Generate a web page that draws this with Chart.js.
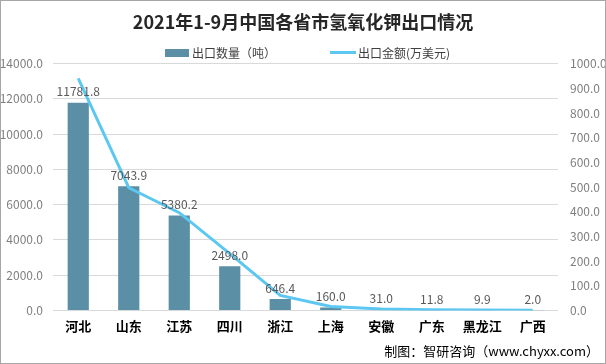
<!DOCTYPE html>
<html>
<head>
<meta charset="utf-8">
<script src="https://cdn.jsdelivr.net/npm/chart.js@4.4.0/dist/chart.umd.min.js"></script>
<style>
  html, body { margin: 0; padding: 0; background: #fff; }
  #wrap { position: relative; width: 606px; height: 364px; box-sizing: border-box; border: 1px solid #a6a6a6; }
  #footer { position: absolute; right: 6px; bottom: 3px; font: 13px "Noto Sans CJK SC", sans-serif; color: #000; }
  #legend { position: absolute; left: 164px; top: 41px; font: 12px "Noto Sans CJK SC", sans-serif; color: #404040; white-space: nowrap; line-height: 18px; }
  #legend span { display: inline-block; vertical-align: middle; }
  .mk-bar { width: 24px; height: 8px; background: #5b8fa6; margin-right: 3px; }
  .mk-line { width: 26px; height: 3px; background: #5cc8f2; margin-left: 54px; margin-right: 2px; }
</style>
</head>
<body>
<div id="wrap">
  <canvas id="chart" width="604" height="362"></canvas>
  <div id="legend"><span class="mk-bar"></span><span>出口数量（吨）</span><span class="mk-line"></span><span>出口金额(万美元)</span></div>
  <div id="footer">制图：智研咨询（www.chyxx.com）</div>
</div>
<script>
const provinces = ["河北", "山东", "江苏", "四川", "浙江", "上海", "安徽", "广东", "黑龙江", "广西"];
const exportTons = [11781.8, 7043.9, 5380.2, 2498.0, 646.4, 160.0, 31.0, 11.8, 9.9, 2.0];
const exportUsd = [940, 497, 396, 230, 61, 16, 6, 2.5, 2, 0.5];

const FONT = '"Noto Sans CJK SC", sans-serif';
const barColor = "#5b8fa6";
const lineColor = "#5cc8f2";

// value labels above the bars
const barLabels = {
  id: "barLabels",
  afterDatasetsDraw(chart) {
    const ctx = chart.ctx;
    const meta = chart.getDatasetMeta(1);
    ctx.save();
    ctx.font = "12px " + FONT;
    ctx.fillStyle = "#595959";
    ctx.textAlign = "center";
    ctx.textBaseline = "bottom";
    meta.data.forEach((bar, i) => {
      ctx.fillText(exportTons[i].toFixed(1), bar.x, bar.y - 5);
    });
    ctx.restore();
  }
};

new Chart(document.getElementById("chart"), {
  type: "bar",
  data: {
    labels: provinces,
    datasets: [
      {
        type: "line",
        label: "出口金额(万美元)",
        data: exportUsd,
        yAxisID: "y1",
        borderColor: lineColor,
        borderWidth: 3,
        pointRadius: 0,
        tension: 0,
        order: 0
      },
      {
        label: "出口数量（吨）",
        data: exportTons,
        yAxisID: "y",
        backgroundColor: barColor,
        barPercentage: 0.42,
        categoryPercentage: 1,
        order: 1
      }
    ]
  },
  options: {
    responsive: false,
    animation: false,
    layout: { padding: { left: 0, right: 0, top: 0, bottom: 21 } },
    plugins: {
      title: {
        display: true,
        text: "2021年1-9月中国各省市氢氧化钾出口情况",
        color: "#262626",
        font: { family: FONT, size: 18, weight: "bold" },
        padding: { top: 10, bottom: 31 }
      },
      legend: { display: false },
      tooltip: { enabled: false }
    },
    scales: {
      x: {
        grid: { display: false, drawTicks: false },
        border: { display: false },
        ticks: { color: "#000", font: { family: FONT, size: 13, weight: "bold" }, padding: 8 }
      },
      y: {
        position: "left",
        min: 0,
        max: 14000,
        afterFit: s => { s.width = 52; },
        ticks: {
          stepSize: 2000,
          color: "#7f7f7f",
          font: { family: FONT, size: 12 },
          padding: 10,
          callback: v => v.toFixed(1)
        },
        grid: { color: "#d9d9d9", drawTicks: false },
        border: { display: false }
      },
      y1: {
        position: "right",
        min: 0,
        max: 1000,
        afterFit: s => { s.width = 47; },
        ticks: {
          stepSize: 100,
          color: "#7f7f7f",
          font: { family: FONT, size: 12 },
          padding: 12,
          callback: v => v.toFixed(1)
        },
        grid: { display: false, drawTicks: false },
        border: { display: false }
      }
    }
  },
  plugins: [barLabels]
});
</script>
</body>
</html>
